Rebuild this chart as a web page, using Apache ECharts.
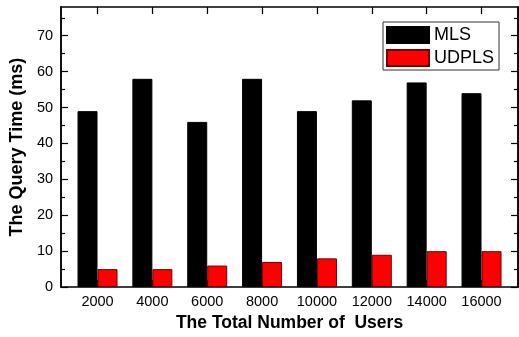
<!DOCTYPE html>
<html>
<head>
<meta charset="utf-8">
<script src="https://cdn.jsdelivr.net/npm/echarts@6/dist/echarts.min.js"></script>
<style>html,body{margin:0;padding:0;background:#fff}#c{width:519px;height:337px}</style>
</head>
<body>
<div id="c"></div>
<script>
var users = [2000, 4000, 6000, 8000, 10000, 12000, 14000, 16000];
var mls = [49, 58, 46, 58, 49, 52, 57, 54];
var udpls = [5, 5, 6, 7, 8, 9, 10, 10];
var yMajor = [0, 10, 20, 30, 40, 50, 60, 70];
var yMinor = [5, 15, 25, 35, 45, 55, 65, 75];

var FONT = 'Liberation Sans, Arial, sans-serif';
var chart = echarts.init(document.getElementById('c'), null, {renderer: 'canvas'});
var line = {show: true, onZero: false, lineStyle: {color: '#000', width: 1.5}};
function plain(v) { return String(v); }
function yAx(pos, ticks, len, labels) {
  return {
    type: 'value', position: pos, min: 0, max: 78,
    axisLine: line,
    axisTick: {show: true, inside: true, length: len, customValues: ticks, lineStyle: {color: '#000', width: 1.2}},
    axisLabel: labels ? {show: true, customValues: ticks, formatter: plain, fontFamily: FONT, fontSize: 14.5, color: '#000', margin: 8} : {show: false},
    splitLine: {show: false}
  };
}
var yAxes = [yAx('left', yMajor, 7, true), yAx('left', yMinor, 4, false), yAx('right', yMajor, 7, false), yAx('right', yMinor, 4, false)];
yAxes[0].name = 'The Query Time (ms)';
yAxes[0].nameLocation = 'middle';
yAxes[0].nameGap = 27;
yAxes[0].nameTextStyle = {fontFamily: FONT, fontSize: 18, fontWeight: 'bold', color: '#000'};

chart.setOption({
  animation: false,
  grid: {left: 60, right: 1, top: 7, bottom: 45},
  legend: {
    left: 383, top: 22, orient: 'vertical',
    padding: [4, 5, 3, 3], itemGap: 5, itemWidth: 42, itemHeight: 16,
    borderColor: '#333', borderWidth: 1,
    icon: 'rect',
    textStyle: {fontFamily: FONT, fontSize: 18, color: '#000'},
    data: ['MLS', 'UDPLS']
  },
  xAxis: [{
    type: 'value', position: 'bottom', min: 670, max: 17330,
    axisLine: line,
    axisTick: {show: true, inside: true, length: 7, customValues: users, lineStyle: {color: '#000'}},
    axisLabel: {show: true, customValues: users, formatter: plain, fontFamily: FONT, fontSize: 14.5, color: '#000', margin: 7},
    splitLine: {show: false},
    name: 'The Total Number of  Users', nameLocation: 'middle', nameGap: 25,
    nameTextStyle: {fontFamily: FONT, fontSize: 17.5, fontWeight: 'bold', color: '#000'}
  }, {
    type: 'value', position: 'top', min: 670, max: 17330,
    axisLine: line,
    axisTick: {show: true, inside: true, length: 7, customValues: users, lineStyle: {color: '#000', width: 1.2}},
    axisLabel: {show: false},
    splitLine: {show: false}
  }],
  yAxis: yAxes,
  series: [{
    name: 'MLS', type: 'bar', xAxisIndex: 0, yAxisIndex: 0,
    barWidth: 20, barGap: '0%',
    itemStyle: {color: '#000', borderColor: '#000', borderWidth: 1},
    data: users.map(function (u, i) { return [u, mls[i]]; })
  }, {
    name: 'UDPLS', type: 'bar', xAxisIndex: 0, yAxisIndex: 0,
    barWidth: 20, barGap: '0%',
    itemStyle: {color: '#ff0000', borderColor: '#6e0000', borderWidth: 1},
    data: users.map(function (u, i) { return [u, udpls[i]]; })
  }]
});
</script>
</body>
</html>
